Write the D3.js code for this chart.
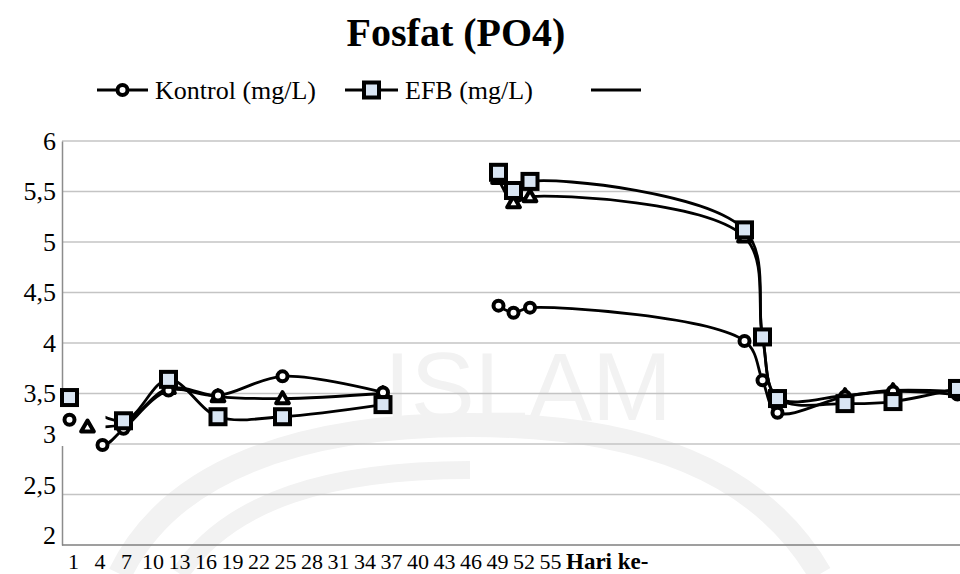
<!DOCTYPE html>
<html>
<head>
<meta charset="utf-8">
<script src="https://cdn.jsdelivr.net/npm/d3@7/dist/d3.min.js"></script>
<style>
	body { margin: 0; background: #fff; }
	text { font-family: 'Liberation Serif', 'Times New Roman', serif; }
</style>
</head>
<body>
<svg id="chart" width="960" height="574"></svg>
<script>
const days = [0.5, 1.7, 2.7, 4.1, 7.1, 10.4, 14.7, 21.4, 29.1, 30.1, 31.2, 45.5, 46.7, 47.7, 52.2, 55.4, 59.7];
const kontrol = [3.24, null, 2.99, 3.15, 3.53, 3.48, 3.67, 3.51, 4.37, 4.30, 4.35, 4.02, 3.63, 3.31, 3.47, 3.52, 3.49];
const efb = [3.46, null, null, 3.23, 3.64, 3.27, 3.27, 3.39, 5.69, 5.51, 5.60, 5.12, 4.06, 3.45, 3.40, 3.42, 3.55];
const third = [null, 3.17, null, 3.20, 3.55, 3.47, 3.45, 3.50, 5.63, 5.39, 5.45, 5.05, 4.06, 3.46, 3.48, 3.53, 3.52];
const yTicks = [2, 2.5, 3, 3.5, 4, 4.5, 5, 5.5, 6];
const xLabels = ['1', '4', '7', '10', '13', '16', '19', '22', '25', '28', '31', '34', '37', '40', '43', '46', '49', '52', '55'];
const gapDay = 25; // no line between the two sampling periods

const svg = d3.select('#chart');
const x = d3.scaleLinear().domain([0, 60]).range([62, 962]);
const y = d3.scaleLinear().domain([2, 6]).range([545, 141]);
const xLab = d3.scalePoint().domain(xLabels).range([73, 73 + 26.5 * (xLabels.length - 1)]);

// faint watermark in the background
const wm = svg.append('g').attr('fill', 'none').attr('stroke', '#f2f2f2');
wm.append('path')
	.attr('stroke-width', 24)
	.attr('d', 'M120,574 C170,470 300,425 470,425 C640,425 760,470 820,574');
wm.append('path')
	.attr('stroke-width', 18)
	.attr('d', 'M180,574 C230,500 330,470 470,470');
svg.append('text')
	.attr('x', 528)
	.attr('y', 420)
	.attr('text-anchor', 'middle')
	.style('font-family', "'Liberation Sans', sans-serif")
	.style('font-size', '96px')
	.attr('fill', '#f2f2f2')
	.text('ISLAM');

// title
svg.append('text')
	.attr('x', 456)
	.attr('y', 46)
	.attr('text-anchor', 'middle')
	.style('font-size', '40px')
	.style('font-weight', 'bold')
	.text('Fosfat (PO4)');

// gridlines
svg.append('g')
	.selectAll('line')
	.data(yTicks.filter((t) => t > 2))
	.enter()
	.append('line')
	.attr('x1', x(0))
	.attr('x2', x(60))
	.attr('y1', (d) => y(d))
	.attr('y2', (d) => y(d))
	.attr('stroke', '#c4c4c4')
	.attr('stroke-width', 1.5);

// y axis
const yAxis = svg.append('g')
	.attr('transform', `translate(${x(0)},0)`)
	.call(d3.axisLeft(y).tickValues(yTicks).tickSize(0).tickPadding(6).tickFormat((d) => String(d).replace('.', ',')));
yAxis.select('.domain').attr('stroke', '#8c8c8c').attr('stroke-width', 1.5);
yAxis.selectAll('text')
	.style('font-size', '26px')
	.attr('fill', '#000')
	.attr('dy', (d) => (d <= 3 ? '-0.05em' : '0.32em'));

// x axis line and the day labels
svg.append('line')
	.attr('x1', x(0))
	.attr('x2', x(60))
	.attr('y1', y(2))
	.attr('y2', y(2))
	.attr('stroke', '#7f7f7f')
	.attr('stroke-width', 1.5);
const xAxis = svg.append('g')
	.attr('transform', `translate(0,${y(2)})`)
	.call(d3.axisBottom(xLab).tickSize(0).tickPadding(8));
xAxis.select('.domain').remove();
xAxis.selectAll('text').style('font-size', '22px').attr('fill', '#000');
svg.append('text')
	.attr('x', xLab('55') + 16)
	.attr('y', y(2) + 24)
	.style('font-size', '23px')
	.style('font-weight', 'bold')
	.text('Hari ke-');

function toPoints(vals) {
	return days.map((d, i) => ({ d, v: vals[i] })).filter((p) => p.v != null);
}
const series = [
	{ name: 'third', pts: toPoints(third), marker: 'triangle' },
	{ name: 'kontrol', pts: toPoints(kontrol), marker: 'circle' },
	{ name: 'efb', pts: toPoints(efb), marker: 'square' },
];

const line = d3.line()
	.x((p) => x(p.d))
	.y((p) => y(p.v))
	.curve(d3.curveCatmullRom.alpha(0.5));

series.forEach((s) => {
	const parts = [ s.pts.filter((p) => p.d < gapDay), s.pts.filter((p) => p.d > gapDay) ];
	parts.forEach((part) => {
		svg.append('path')
			.attr('d', line(part))
			.attr('fill', 'none')
			.attr('stroke', '#000')
			.attr('stroke-width', 2.8);
	});
});

// white patch pasted over the first days
svg.append('rect')
	.attr('x', x(0) - 3)
	.attr('y', y(3.47))
	.attr('width', x(2.9) - x(0) + 3)
	.attr('height', y(2.98) - y(3.47))
	.attr('fill', '#fff');

function drawMarker(g, type, cx, cy) {
	if (type === 'circle') {
		g.append('circle').attr('cx', cx).attr('cy', cy).attr('r', 5)
			.attr('fill', '#fff').attr('stroke', '#000').attr('stroke-width', 4);
	} else if (type === 'square') {
		g.append('rect').attr('x', cx - 7.5).attr('y', cy - 7.5).attr('width', 15).attr('height', 15)
			.attr('fill', '#d9e5f3').attr('stroke', '#000').attr('stroke-width', 4);
	} else {
		g.append('path')
			.attr('transform', `translate(${cx},${cy + 1})`)
			.attr('d', d3.symbol(d3.symbolTriangle, 70)())
			.attr('fill', '#fff').attr('stroke', '#000').attr('stroke-width', 4)
			.attr('stroke-linejoin', 'round');
	}
}

const markers = svg.append('g');
series.forEach((s) => {
	s.pts.forEach((p) => drawMarker(markers, s.marker, x(p.d), y(p.v)));
});

// legend
const legend = svg.append('g');
const legendItems = [
	{ x1: 97, x2: 148, marker: 'circle', label: 'Kontrol (mg/L)' },
	{ x1: 345, x2: 398, marker: 'square', label: 'EFB (mg/L)' },
	{ x1: 591, x2: 641, marker: null, label: '' },
];
legendItems.forEach((it) => {
	legend.append('line')
		.attr('x1', it.x1).attr('x2', it.x2).attr('y1', 90).attr('y2', 90)
		.attr('stroke', '#000').attr('stroke-width', 2.8);
	if (it.marker) drawMarker(legend, it.marker, (it.x1 + it.x2) / 2, 90);
	legend.append('text')
		.attr('x', it.x2 + 7)
		.attr('y', 99)
		.style('font-size', '26px')
		.text(it.label);
});
</script>
</body>
</html>
